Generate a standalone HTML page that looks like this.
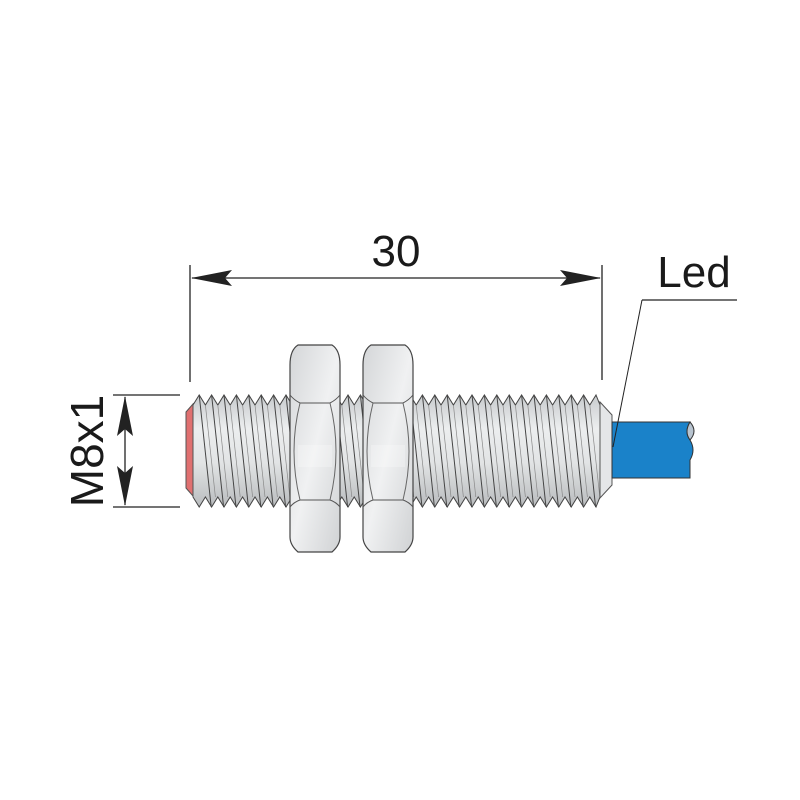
<!DOCTYPE html>
<html><head><meta charset="utf-8"><style>html,body{margin:0;padding:0;background:#fff}svg{display:block}</style></head>
<body>
<svg id="s" width="800" height="800" viewBox="0 0 800 800" xmlns="http://www.w3.org/2000/svg">
<defs>
<linearGradient id="tg" x1="0" y1="0" x2="0" y2="1">
<stop offset="0" stop-color="#c8cbcd"/><stop offset="0.3" stop-color="#eceeef"/><stop offset="0.6" stop-color="#e2e4e5"/><stop offset="1" stop-color="#b9bcbe"/>
</linearGradient>
<linearGradient id="ng" x1="0" y1="0" x2="1" y2="1">
<stop offset="0" stop-color="#d4d6d8"/><stop offset="0.5" stop-color="#f0f1f2"/><stop offset="1" stop-color="#d0d2d4"/>
</linearGradient>
</defs>
<g id="thr"></g>
<path d="M186,412 L193,404 L193,496 L186,488 Z" fill="#e07070" stroke="#555" stroke-width="1"/>
<path d="M600,402 L612,415 L612,485 L600,498 Z" fill="#e4e6e8" stroke="#555" stroke-width="1"/>
<path d="M612,422 L690,422 Q684,432 690,440 Q696,450 690,460 L690,478 L612,478 Z" fill="#1a82c9" stroke="#333" stroke-width="1"/>
<path d="M690,422 Q698,431 690,440 Q684,432 690,422 Z" fill="#b8c4d0" stroke="#333" stroke-width="1"/>
<g id="nuts"></g>
<g stroke="#222" stroke-width="1.3" fill="none">
<line x1="190" y1="265" x2="190" y2="382"/>
<line x1="602" y1="265" x2="602" y2="380"/>
<line x1="192" y1="278" x2="600" y2="278"/>
<line x1="113" y1="395" x2="180" y2="395"/>
<line x1="113" y1="507" x2="180" y2="507"/>
<line x1="125" y1="397" x2="125" y2="505"/>
<polyline points="642,300 737,300"/>
<polyline points="642,300 613,447" stroke-width="1"/>
</g>
<g fill="#222">
<path d="M191,278 L232,270 L225,278 L232,286 Z"/>
<path d="M601,278 L560,270 L567,278 L560,286 Z"/>
<path d="M125,396 L117,436 L125,429 L133,436 Z"/>
<path d="M125,506 L117,466 L125,473 L133,466 Z"/>
</g>
<g font-family="Liberation Sans, sans-serif" fill="#1a1a1a">
<text x="396" y="266" font-size="44" text-anchor="middle">30</text>
<text x="694" y="287" font-size="44" text-anchor="middle">Led</text>
<text transform="translate(103,451) rotate(-90)" font-size="46" text-anchor="middle">M8x1</text>
</g>
</svg>
<script>
(function(){
var ns="http://www.w3.org/2000/svg",thr=document.getElementById('thr');
function el(t,a,p){var e=document.createElementNS(ns,t);for(var k in a)e.setAttribute(k,a[k]);(p||thr).appendChild(e);return e;}
var x0=193,x1=600,P=12.4,yt=395,rt=405,yb=507,rb=497,S=12;
var xs=[];for(var x=x0;x<x1-2;x+=P)xs.push(x);
var d="M"+x0+","+rt;
for(var i=0;i<xs.length;i++){var x=xs[i];d+=" L"+(x+P/2)+","+yt+" L"+Math.min(x+P,x1)+","+rt;}
d+=" L"+x1+","+rb;
for(var i=xs.length-1;i>=0;i--){var xx=xs[i];d+=" L"+(xx+P/2)+","+yb+" L"+xx+","+rb;}
d+=" L"+x0+","+rb+" Z";
el('path',{d:d,fill:'url(#tg)',stroke:'#444','stroke-width':1});
for(var i=0;i<xs.length;i++){var x=xs[i];
 var xa=x+P/2, xb=xa+S;
 if(xb>x1){continue;}
 el('line',{x1:xa,y1:yt,x2:xb,y2:yb,stroke:'#444','stroke-width':1});
 el('line',{x1:x+P,y1:rt,x2:x+P+S-2,y2:rb,stroke:'#888','stroke-width':0.7});
}
var nuts=document.getElementById('nuts');
function nut(a){var b=a+50;
 el('path',{d:"M"+(a+8)+",345 L"+(b-8)+",345 Q"+b+",350 "+b+",365 L"+b+",537 Q"+b+",545 "+(b-8)+",552 L"+(a+8)+",552 Q"+a+",545 "+a+",537 L"+a+",365 Q"+a+",350 "+(a+8)+",345 Z",fill:'url(#ng)',stroke:'#444','stroke-width':1.2},nuts);
 el('path',{d:"M"+a+",395 Q"+(a+4)+",400 "+(a+10)+",403 L"+(b-10)+",403 Q"+(b-4)+",400 "+b+",395",fill:'none',stroke:'#555','stroke-width':1},nuts);
 el('path',{d:"M"+a+",507 Q"+(a+4)+",502 "+(a+10)+",500 L"+(b-10)+",500 Q"+(b-4)+",502 "+b+",507",fill:'none',stroke:'#555','stroke-width':1},nuts);
 el('path',{d:"M"+(a+10)+",403 Q"+(a-2)+",451 "+(a+10)+",500 M"+(b-10)+",403 Q"+(b+2)+",451 "+(b-10)+",500",fill:'none',stroke:'#666','stroke-width':1},nuts);
 el('rect',{x:a+8,y:445,width:34,height:22,fill:'#fff',opacity:0.25},nuts);
}
nut(290);nut(363);
})();
</script>
</body></html>
